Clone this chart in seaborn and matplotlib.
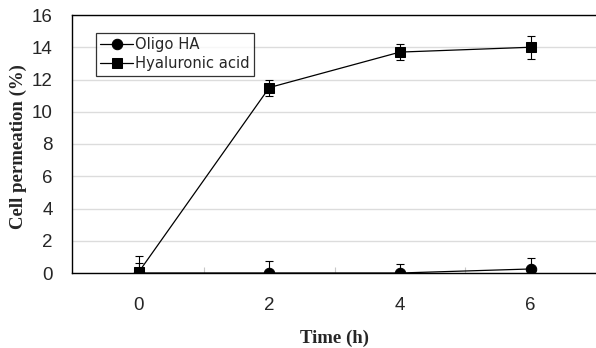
import matplotlib
matplotlib.use("Agg")
import matplotlib.pyplot as plt
import seaborn as sns
import pandas as pd

time_h = [0, 2, 4, 6]
oligo_ha = [0.0, 0.0, 0.0, 0.25]
oligo_err = [0.65, 0.75, 0.55, 0.7]
hyaluronic = [0.05, 11.5, 13.7, 14.0]
hyaluronic_err = [1.0, 0.5, 0.5, 0.7]
series_names = ["Oligo HA", "Hyaluronic acid"]
y_ticks = [0, 2, 4, 6, 8, 10, 12, 14, 16]

sns.set_theme(style="white")
plt.rcParams['font.family'] = ['Liberation Sans', 'DejaVu Sans']

df = pd.DataFrame({
    "Time": time_h * 2,
    "Value": oligo_ha + hyaluronic,
    "Series": [series_names[0]] * 4 + [series_names[1]] * 4,
})

fig = plt.figure(figsize=(5.96, 3.48), dpi=100)
ax = fig.add_axes([72 / 596, 1 - 273 / 348, 1 - 72 / 596, (273 - 15) / 348])

for val, err in [(oligo_ha, oligo_err), (hyaluronic, hyaluronic_err)]:
    ax.errorbar(time_h, val, yerr=err, fmt="none", ecolor="black",
                elinewidth=0.8, capsize=3.2, capthick=0.8, zorder=3)

sns.lineplot(data=df, x="Time", y="Value", hue="Series", style="Series",
             markers={"Oligo HA": "o", "Hyaluronic acid": "s"},
             dashes=False, palette={"Oligo HA": "black", "Hyaluronic acid": "black"},
             markersize=7.5, linewidth=0.9, markeredgecolor="black",
             ax=ax, zorder=4)

ax.set_xlim(-1.02, 7.0)
ax.set_ylim(0, 16)
ax.set_xticks(time_h)
ax.set_xticklabels([str(t) for t in time_h])
ax.set_xticks([1, 3, 5], minor=True)
ax.set_yticks(y_ticks)
ax.tick_params(axis="both", which="major", length=0, labelsize=13.5)
ax.tick_params(axis="y", which="major", pad=14)
ax.tick_params(axis="x", which="major", pad=17)
ax.tick_params(axis="x", which="minor", direction="in", length=4,
               color="#c8c8c8", width=0.8, bottom=True)
ax.yaxis.grid(True, color="#dcdcdc", linewidth=1.0)
ax.xaxis.grid(False)
ax.set_axisbelow(True)

for side in ["left", "bottom", "top"]:
    ax.spines[side].set_visible(True)
    ax.spines[side].set_color("black")
    ax.spines[side].set_linewidth(1.0)
ax.spines["right"].set_visible(False)

serif_bold = dict(family="Liberation Serif", fontweight="bold", fontsize=13.5)
ax.set_xlabel("Time (h)", **serif_bold)
ax.set_ylabel("Cell permeation (%)", **serif_bold)
ax.xaxis.set_label_coords(0.5, -0.22)
ax.yaxis.set_label_coords((27 - 72) / 524, 0.49)

leg = ax.legend(loc="upper left", bbox_to_anchor=(24 / 524, 1 - 18 / 258),
                frameon=True, fancybox=False, prop={"family": "DejaVu Sans", "size": 10.6},
                handlelength=2.2, handletextpad=0.15, borderpad=0.3,
                labelspacing=0.25, borderaxespad=0)
leg.get_frame().set_edgecolor("black")
leg.get_frame().set_linewidth(0.9)
leg.get_frame().set_boxstyle("square", pad=0)

fig.savefig("out.png", dpi=100)
